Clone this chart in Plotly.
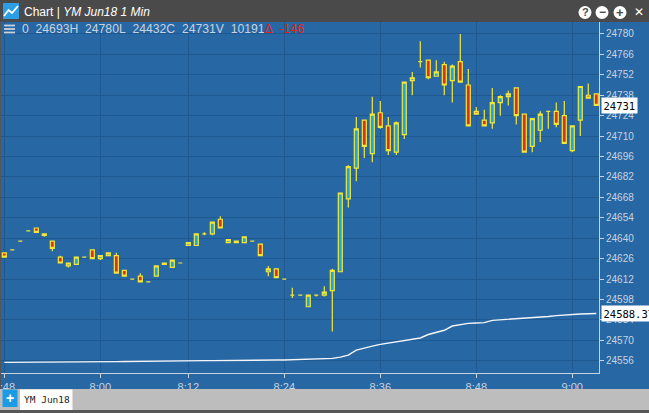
import plotly.graph_objects as go

# minutes after midnight, one minute has no bar between 8:00 and 8:12
minutes = list(range(468, 481)) + list(range(481, 486)) + list(range(487, 544))
times = [f"{m // 60}:{m % 60:02d}" for m in minutes]

opens = [24630, 24632, 24638, 24645, 24647, 24643, 24638, 24627, 24621, 24622,
         24627, 24632, 24626, 24628, 24628, 24618, 24612, 24614, 24610, 24614,
         24622, 24620, 24623, 24635, 24635, 24643, 24643, 24653, 24637, 24638,
         24637, 24638, 24636, 24617, 24619, 24612, 24601, 24601, 24593, 24601,
         24601, 24604, 24617, 24667, 24688, 24721, 24698, 24726, 24717, 24699,
         24711, 24748, 24761, 24762, 24751, 24759, 24748, 24761, 24745, 24727,
         24721, 24719, 24733, 24737, 24743, 24725, 24703, 24714, 24727, 24727,
         24724, 24700, 24721, 24738, 24739]
highs = [24630, 24632, 24638, 24645, 24647, 24643, 24638, 24628, 24623, 24627,
         24627, 24632, 24628, 24630, 24630, 24618, 24612, 24616, 24610, 24621,
         24623, 24625, 24623, 24637, 24643, 24644, 24651, 24655, 24639, 24638,
         24641, 24638, 24636, 24621, 24619, 24612, 24606, 24601, 24601, 24601,
         24607, 24619, 24671, 24690, 24723, 24721, 24737, 24734, 24723, 24720,
         24747, 24754, 24775, 24762, 24762, 24761, 24759, 24780, 24756, 24730,
         24728, 24743, 24738, 24741, 24743, 24725, 24722, 24727, 24727, 24733,
         24734, 24717, 24744, 24746, 24739]
lows = [24627, 24632, 24638, 24645, 24644, 24641, 24631, 24623, 24620, 24622,
        24627, 24626, 24625, 24628, 24616, 24614, 24612, 24610, 24610, 24614,
        24622, 24620, 24623, 24635, 24635, 24642, 24642, 24647, 24637, 24637,
        24637, 24638, 24628, 24614, 24613, 24612, 24599, 24601, 24593, 24600,
        24600, 24576, 24617, 24661, 24679, 24695, 24692, 24715, 24697, 24697,
        24708, 24738, 24757, 24749, 24751, 24738, 24733, 24747, 24717, 24725,
        24717, 24715, 24724, 24731, 24718, 24699, 24699, 24706, 24715, 24716,
        24705, 24699, 24710, 24736, 24731]
closes = [24627, 24632, 24638, 24645, 24644, 24642, 24633, 24623, 24623, 24627,
          24627, 24626, 24628, 24630, 24616, 24614, 24612, 24610, 24610, 24621,
          24623, 24625, 24623, 24637, 24643, 24643, 24651, 24647, 24639, 24637,
          24641, 24638, 24628, 24619, 24613, 24612, 24601, 24601, 24601, 24601,
          24603, 24618, 24671, 24689, 24715, 24703, 24725, 24716, 24700, 24719,
          24747, 24750, 24761, 24750, 24754, 24745, 24758, 24747, 24717, 24725,
          24717, 24733, 24737, 24739, 24724, 24699, 24722, 24725, 24727, 24718,
          24705, 24717, 24744, 24736, 24731]
study = [24554.9, 24554.9, 24555.0, 24555.0, 24555.0, 24555.1, 24555.1, 24555.1,
         24555.2, 24555.2, 24555.2, 24555.3, 24555.3, 24555.4, 24555.4, 24555.5,
         24555.6, 24555.6, 24555.7, 24555.8, 24555.8, 24555.9, 24555.9, 24556.0,
         24556.0, 24556.1, 24556.1, 24556.2, 24556.2, 24556.3, 24556.3, 24556.4,
         24556.4, 24556.5, 24556.5, 24556.5, 24556.6, 24556.7, 24556.8, 24556.9,
         24557.0, 24557.6, 24558.5, 24559.9, 24563.3, 24564.8, 24566.0, 24567.2,
         24568.1, 24569.0, 24569.8, 24570.6, 24571.6, 24574.0, 24575.2, 24576.9,
         24579.8, 24580.9, 24581.6, 24581.9, 24582.1, 24583.7, 24584.0, 24584.4,
         24584.8, 24585.1, 24585.5, 24585.9, 24586.3, 24586.9, 24587.4, 24587.8,
         24588.0, 24588.2, 24588.37]

x_ticks = ["7:48", "8:00", "8:12", "8:24", "8:36", "8:48", "9:00"]
y_ticks = list(range(24556, 24781, 14))

BLUE = "#2767a4"
GRID = "#1e5890"
LIGHT = "#c9d3df"
YELLOW = "#f3e83a"
FONT = "Liberation Sans"


# pixel -> paper helpers (plot area is 599 x 351, top at 22)
def px(X):
    return X / 599


def py(Y):
    return (373 - Y) / 351


fig = go.Figure()
fig.add_trace(go.Candlestick(
    x=times, open=opens, high=highs, low=lows, close=closes,
    increasing=dict(line=dict(color=YELLOW, width=1.2), fillcolor="#1fa7e2"),
    decreasing=dict(line=dict(color=YELLOW, width=1.2), fillcolor="#d8302b"),
    whiskerwidth=0, showlegend=False
))
fig.add_trace(go.Scatter(
    x=times, y=study, mode="lines",
    line=dict(color="#f4f6fa", width=1.4), showlegend=False
))

shapes = [
    # header bar
    dict(type="rect", xref="paper", yref="paper", x0=px(-2), x1=px(651),
         y0=py(22), y1=py(-2), fillcolor="#4a4a4a", line=dict(width=0)),
    dict(type="rect", xref="paper", yref="paper", x0=px(3), x1=px(19),
         y0=py(19), y1=py(3), fillcolor="#2b9ee4", line=dict(width=0)),
    dict(type="path", xref="paper", yref="paper",
         path=f"M{px(4)},{py(16)} L{px(8.5)},{py(10)} L{px(12)},{py(13)} L{px(18)},{py(6)}",
         line=dict(color="white", width=1.8)),
    # bottom tab bar
    dict(type="rect", xref="paper", yref="paper", x0=px(-2), x1=px(651),
         y0=py(410), y1=py(389), fillcolor="#bdbdbd", line=dict(width=0)),
    dict(type="rect", xref="paper", yref="paper", x0=px(-2), x1=px(651),
         y0=py(415), y1=py(410), fillcolor="#575757", line=dict(width=0)),
    dict(type="rect", xref="paper", yref="paper", x0=px(2.5), x1=px(17.5),
         y0=py(407), y1=py(389.5), fillcolor="#1b9be3", line=dict(width=0)),
    dict(type="rect", xref="paper", yref="paper", x0=px(20), x1=px(72.5),
         y0=py(410), y1=py(389.5), fillcolor="white", line=dict(width=0)),
    # left border
    dict(type="rect", xref="paper", yref="paper", x0=px(-1), x1=px(1),
         y0=py(389), y1=py(22), fillcolor="#555555", line=dict(width=0)),
]
# hamburger icon
for yy in [25.5, 29, 32.5]:
    shapes.append(dict(type="line", xref="paper", yref="paper",
                       x0=px(4), x1=px(15), y0=py(yy), y1=py(yy),
                       line=dict(color=LIGHT, width=1.8)))
# window icons
for cx in [585, 602, 620]:
    shapes.append(dict(type="circle", xref="paper", yref="paper",
                       x0=px(cx - 6.5), x1=px(cx + 6.5), y0=py(12.5 + 6.5), y1=py(12.5 - 6.5),
                       fillcolor="white", line=dict(width=0)))

annotations = [
    dict(x=px(22), y=py(11.5), text="Chart | <i>YM Jun18 1 Min</i>",
         font=dict(family=FONT, size=12, color="white")),
    dict(x=px(20), y=py(29),
         text="0\u00a0\u00a024693H\u00a0\u00a024780L\u00a0\u00a024432C\u00a0\u00a024731V\u00a0\u00a010191"
              "<span style='color:#e8201c'>\u0394\u00a0\u00a0-146</span>",
         font=dict(family=FONT, size=12.2, color=LIGHT)),
    dict(x=px(585), y=py(12.5), text="<b>?</b>", xanchor="center",
         font=dict(family=FONT, size=11, color="#4a4a4a")),
    dict(x=px(602), y=py(12.5), text="<b>\u2212</b>", xanchor="center",
         font=dict(family=FONT, size=12, color="#4a4a4a")),
    dict(x=px(620), y=py(12.5), text="<b>+</b>", xanchor="center",
         font=dict(family=FONT, size=13, color="#4a4a4a")),
    dict(x=px(638.5), y=py(12), text="<b>\u2715</b>", xanchor="center",
         font=dict(family="DejaVu Sans", size=12, color="white")),
    dict(x=px(10), y=py(398), text="<b>+</b>", xanchor="center",
         font=dict(family=FONT, size=14, color="white")),
    dict(x=px(22), y=py(399.5), text="YM\u00a0Jun18",
         font=dict(family="DejaVu Sans Mono", size=9.5, color="#222222")),
    # last value labels
    dict(x=1, xshift=1.5, yref="y", y=closes[-1], text=str(closes[-1]),
         bgcolor="white", borderpad=1.5,
         font=dict(family="DejaVu Sans Mono", size=10.5, color="black")),
    dict(x=1, xshift=1.5, yref="y", y=study[-1], text=f"{study[-1]:.2f}",
         bgcolor="white", borderpad=1.5,
         font=dict(family="DejaVu Sans Mono", size=10.5, color="black")),
]
for a in annotations:
    a.setdefault("xref", "paper")
    a.setdefault("yref", "paper")
    a.setdefault("xanchor", "left")
    a.setdefault("yanchor", "middle")
    a["showarrow"] = False

fig.update_layout(
    width=649, height=413,
    margin=dict(l=0, r=50, t=22, b=40, pad=0),
    paper_bgcolor=BLUE, plot_bgcolor=BLUE,
    boxgap=0.5, boxgroupgap=0,
    shapes=shapes, annotations=annotations,
    hovermode=False,
    xaxis=dict(type="category", range=[-0.54, 74.34], tickvals=x_ticks,
               automargin=False,
               showgrid=True, gridcolor=GRID, gridwidth=1,
               showline=True, linecolor=LIGHT, linewidth=1,
               ticks="outside", ticklen=4, tickcolor=LIGHT,
               tickfont=dict(family=FONT, size=11, color=LIGHT),
               rangeslider=dict(visible=False), zeroline=False),
    yaxis=dict(side="right", range=[24547.6, 24788.2], tickvals=y_ticks,
               tickformat="d", automargin=False,
               showgrid=True, gridcolor=GRID, gridwidth=1,
               showline=True, linecolor=LIGHT, linewidth=1,
               ticks="outside", ticklen=4, tickcolor=LIGHT,
               tickfont=dict(family=FONT, size=10, color=LIGHT),
               zeroline=False),
)

fig.write_html("out.html", config={"displayModeBar": False},
               post_script="document.body.style.margin='0';")
